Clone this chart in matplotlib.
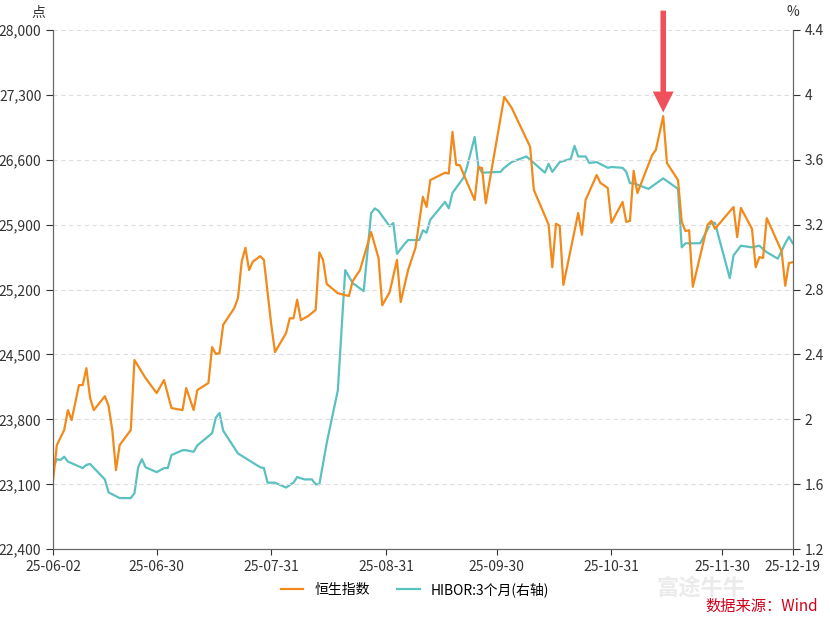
import numpy as np
import matplotlib.pyplot as plt

plt.rcParams['font.family'] = ['Noto Sans CJK SC', 'DejaVu Sans']

# day offsets from 2025-06-02
hsi_day = [0, 1, 3, 4, 5, 7, 8, 9, 10, 11, 14, 15, 16, 17, 18, 21, 22, 24, 25, 28, 30, 32, 35, 36, 38, 39,
           42, 43, 44, 45, 46, 49, 50, 51, 52, 53, 54, 56, 57, 59, 60, 63, 64, 65, 66, 67, 69, 71, 72, 73,
           74, 77, 80, 81, 83, 86, 88, 89, 91, 93, 94, 96, 98, 100, 101, 102, 106, 107, 108, 109, 110, 112,
           114, 115, 116, 117, 122, 124, 129, 130, 134, 135, 136, 137, 138, 142, 143, 144, 147, 148, 150,
           151, 154, 155, 156, 157, 158, 162, 163, 165, 166, 169, 170, 171, 172, 173, 177, 178, 179, 184,
           185, 186, 189, 190, 191, 192, 193, 197, 198, 199, 200]
hsi = [23146, 23523, 23685, 23900, 23793, 24170, 24170, 24353, 24030, 23900, 24050, 23944, 23685, 23253,
       23523, 23685, 24440, 24310, 24245, 24084, 24224, 23922, 23900, 24138, 23900, 24116, 24192, 24580,
       24505, 24515, 24820, 25000, 25110, 25500, 25650, 25410, 25500, 25560, 25520, 24820, 24525, 24730,
       24890, 24890, 25090, 24870, 24915, 24980, 25600, 25520, 25260, 25160, 25130, 25290, 25410, 25820,
       25540, 25030, 25170, 25520, 25065, 25410, 25650, 26200, 26090, 26380, 26460, 26450, 26900, 26545,
       26540, 26350, 26165, 26520, 26510, 26130, 27277, 27160, 26740, 26275, 25900, 25440, 25910, 25885,
       25250, 26025, 25790, 26165, 26435, 26350, 26295, 25920, 26145, 25930, 25940, 26480, 26240, 26650,
       26705, 27070, 26565, 26380, 25930, 25830, 25840, 25230, 25900, 25940, 25855, 26090, 25765, 26080,
       25855, 25440, 25550, 25540, 25970, 25615, 25240, 25485, 25495]

hibor_day = [0, 1, 2, 3, 4, 7, 8, 9, 10, 14, 15, 18, 21, 22, 23, 24, 25, 28, 30, 31, 32, 35, 36, 38, 39,
             43, 44, 45, 46, 50, 56, 57, 58, 60, 63, 65, 66, 68, 70, 71, 72, 74, 77, 79, 81, 84, 86, 87, 88,
             91, 92, 93, 95, 96, 99, 100, 101, 102, 106, 107, 108, 111, 112, 114, 115, 116, 121, 122, 124,
             128, 133, 134, 135, 137, 140, 141, 142, 144, 145, 147, 150, 151, 154, 155, 156, 157, 161, 165,
             169, 170, 171, 175, 178, 179, 183, 184, 186, 189, 191, 193, 196, 198, 199, 200]
hibor = [1.70, 1.755, 1.75, 1.77, 1.74, 1.71, 1.70, 1.72, 1.725, 1.63, 1.55, 1.515, 1.515, 1.545, 1.705,
         1.755, 1.705, 1.675, 1.70, 1.70, 1.78, 1.81, 1.81, 1.80, 1.84, 1.915, 2.01, 2.04, 1.93, 1.79,
         1.705, 1.70, 1.61, 1.61, 1.58, 1.61, 1.645, 1.63, 1.63, 1.60, 1.60, 1.855, 2.18, 2.92, 2.84, 2.79,
         3.27, 3.30, 3.285, 3.19, 3.21, 3.02, 3.08, 3.105, 3.105, 3.165, 3.15, 3.23, 3.34, 3.30, 3.395,
         3.49, 3.56, 3.74, 3.56, 3.52, 3.525, 3.55, 3.585, 3.62, 3.52, 3.575, 3.525, 3.585, 3.605, 3.685,
         3.62, 3.62, 3.58, 3.585, 3.55, 3.555, 3.55, 3.525, 3.455, 3.455, 3.42, 3.485, 3.42, 3.06, 3.085,
         3.085, 3.215, 3.21, 2.87, 3.01, 3.07, 3.06, 3.07, 3.03, 2.99, 3.085, 3.125, 3.085]

tick_days = [0, 28, 59, 90, 120, 151, 181, 200]
tick_labels = ['25-06-02', '25-06-30', '25-07-31', '25-08-31', '25-09-30', '25-10-31', '25-11-30', '25-12-19']
left_ticks = [22400, 23100, 23800, 24500, 25200, 25900, 26600, 27300, 28000]
right_ticks = [1.2, 1.6, 2, 2.4, 2.8, 3.2, 3.6, 4, 4.4]

orange = '#F28A1B'
teal = '#5BC0C0'
axis_col = '#666666'

fig = plt.figure(figsize=(8.3, 6.22), dpi=100)
ax = fig.add_axes([0.064, 0.117, 0.891, 0.835])
ax2 = ax.twinx()

l1, = ax.plot(hsi_day, hsi, color=orange, lw=1.6, label='恒生指数')
l2, = ax2.plot(hibor_day, hibor, color=teal, lw=1.6, label='HIBOR:3个月(右轴)')
ax.set_zorder(ax2.get_zorder() + 1)
ax.patch.set_visible(False)

ax.set_xlim(0, 200)
ax.set_ylim(22400, 28000)
ax2.set_ylim(1.2, 4.4)
ax.set_xticks(tick_days)
ax.set_xticklabels(tick_labels)
ax.set_yticks(left_ticks)
ax.set_yticklabels([f'{v:,}' for v in left_ticks])
ax2.set_yticks(right_ticks)
ax2.set_yticklabels([f'{v:g}' for v in right_ticks])
ax.grid(axis='y', ls=(0, (4, 3)), color='#dddddd', lw=0.8)

for a in (ax, ax2):
    a.spines['top'].set_visible(False)
    for s in ('left', 'right', 'bottom'):
        a.spines[s].set_color(axis_col)
    a.tick_params(colors='#333333', labelsize=10, length=5, direction='out')
    a.tick_params(axis='x', length=4)

ax.text(-0.01, 1.02, '点', transform=ax.transAxes, ha='right', va='bottom', fontsize=10, color='#333333')
ax2.text(1.0, 1.02, '%', transform=ax2.transAxes, ha='center', va='bottom', fontsize=10, color='#333333')

# red arrow pointing at the peak
ax.annotate('', xy=(165, 27080), xytext=(165, 28237), annotation_clip=False,
            arrowprops=dict(arrowstyle='simple,head_length=1.5,head_width=1.5,tail_width=0.4',
                            color='#F0505A', lw=0))

fig.legend(handles=[l1, l2], loc='center', bbox_to_anchor=(0.5, 0.052), ncol=2, frameon=False,
           fontsize=10, handlelength=1.6, columnspacing=2)

fig.text(0.845, 0.055, '富途牛牛', fontsize=16, color='#ebebeb', ha='center', va='center', weight='bold')
fig.text(0.985, 0.012, '数据来源：Wind', fontsize=11, color='#D0021B', ha='right', va='bottom')

fig.savefig('out.png', dpi=100)
